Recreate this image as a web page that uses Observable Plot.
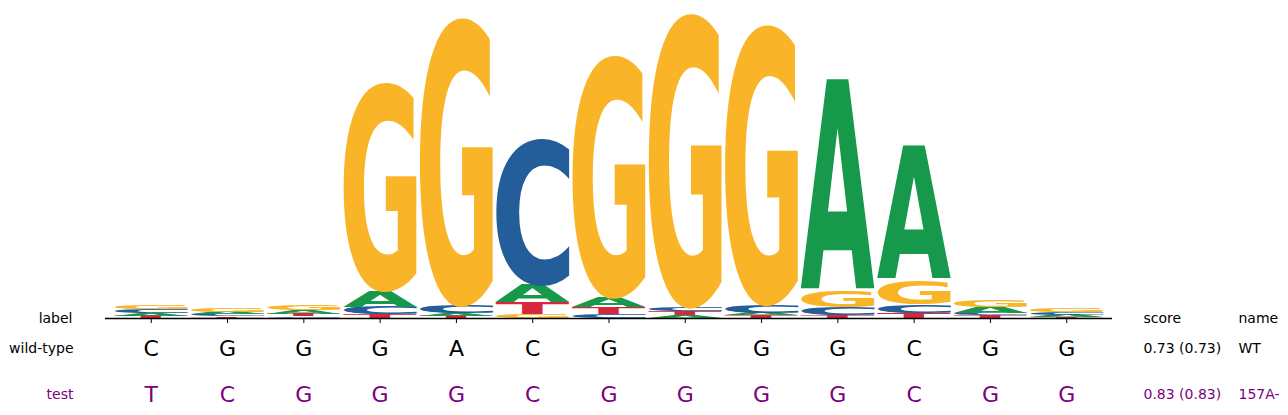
<!DOCTYPE html>
<html>
<head>
<meta charset="utf-8">
<script src="https://cdn.jsdelivr.net/npm/d3@7"></script>
<script src="https://cdn.jsdelivr.net/npm/@observablehq/plot@0.6"></script>
<style>
  body { margin: 0; background: #fff; }
  #chart svg { display: block; }
</style>
</head>
<body>
<div id="chart"></div>
<script>
// motif columns and information content (bits) per letter
const positions = d3.range(13);
const letters = ["A", "C", "G", "T"];
const bitsA = [0.019, 0.016, 0.026, 0.104, 0.016, 0.117, 0.065, 0.019, 0.019, 1.377, 0.870, 0.039, 0.013];
const bitsC = [0.023, 0.013, 0.010, 0.049, 0.052, 0.955, 0.026, 0.029, 0.052, 0.052, 0.055, 0.019, 0.015];
const bitsG = [0.029, 0.026, 0.032, 1.364, 1.883, 0.023, 1.584, 1.922, 1.831, 0.104, 0.159, 0.045, 0.021];
const bitsT = [0.013, 0.010, 0.013, 0.023, 0.013, 0.078, 0.042, 0.023, 0.016, 0.019, 0.032, 0.016, 0.008];

// sequences shown under the logo
const rowNames = ["wild-type", "test"];
const wildType = ["C", "G", "G", "G", "A", "C", "G", "G", "G", "G", "C", "G", "G"];
const testSeq = ["T", "C", "G", "G", "G", "C", "G", "G", "G", "G", "C", "G", "G"];
const rowScores = ["0.73 (0.73)", "0.83 (0.83)"];
const rowIds = ["WT", "157A-"];

const colors = {A: "#16994a", C: "#235e9b", G: "#f9b428", T: "#d7273c"};
const rowColors = {"wild-type": "black", "test": "purple"};
const font = "DejaVu Sans";

// stack letters in each column, smallest at the bottom
const bitsBy = {A: bitsA, C: bitsC, G: bitsG, T: bitsT};
const stacked = [];
for (const pos of positions) {
  const col = letters.map(letter => ({pos, letter, bits: bitsBy[letter][pos]}))
    .sort((a, b) => a.bits - b.bits);
  let y = 0;
  for (const d of col) {
    stacked.push({...d, y1: y, y2: y + d.bits});
    y += d.bits;
  }
}

// ink box of each glyph, used to stretch it into its rect
const ctx = document.createElement("canvas").getContext("2d");
ctx.font = `bold 100px '${font}'`;
const metrics = new Map(letters.map(l => {
  const m = ctx.measureText(l);
  return [l, {
    left: m.actualBoundingBoxLeft, right: m.actualBoundingBoxRight,
    ascent: m.actualBoundingBoxAscent, descent: m.actualBoundingBoxDescent
  }];
}));

function drawGlyphs(index, scales, values) {
  const g = d3.create("svg:g");
  for (const i of index) {
    const d = stacked[i];
    const m = metrics.get(d.letter);
    const x = Math.min(values.x1[i], values.x2[i]);
    const w = Math.abs(values.x2[i] - values.x1[i]);
    const top = Math.min(values.y1[i], values.y2[i]);
    const h = Math.abs(values.y1[i] - values.y2[i]);
    g.append("text")
      .attr("transform", `translate(${x},${top}) scale(${w / (m.left + m.right)},${h / (m.ascent + m.descent)})`)
      .attr("x", m.left)
      .attr("y", m.ascent)
      .attr("text-anchor", "start")
      .attr("fill", colors[d.letter])
      .attr("font-family", font)
      .attr("font-weight", "bold")
      .attr("font-size", 100)
      .text(d.letter);
  }
  return g.node();
}

const xDomain = [-0.6, 12.6];
const marginLeft = 105, marginRight = 176;

const logo = Plot.plot({
  width: 1288,
  height: 330,
  marginTop: 10,
  marginBottom: 12,
  marginLeft,
  marginRight,
  style: {fontFamily: font, fontSize: "14px", color: "black", background: "white"},
  x: {domain: xDomain},
  y: {domain: [0, 2], axis: null},
  marks: [
    Plot.rect(stacked, {
      x1: d => d.pos - 0.485,
      x2: d => d.pos + 0.485,
      y1: "y1",
      y2: "y2",
      render: drawGlyphs
    }),
    Plot.ruleY([0], {stroke: "black", strokeWidth: 1.3}),
    Plot.axisX({ticks: positions, tickSize: 5, tickFormat: () => "", label: null, stroke: "black"}),
    Plot.text(["label"], {frameAnchor: "bottom-left", lineAnchor: "middle", dx: -33, textAnchor: "end", fill: "black", fontSize: 14}),
    Plot.text(["score"], {frameAnchor: "bottom-right", lineAnchor: "middle", dx: 31, textAnchor: "start", fill: "black", fontSize: 14}),
    Plot.text(["name"], {frameAnchor: "bottom-right", lineAnchor: "middle", dx: 126, textAnchor: "start", fill: "black", fontSize: 14})
  ]
});

const seqCells = [];
rowNames.forEach((row, r) => {
  const seq = r === 0 ? wildType : testSeq;
  seq.forEach((base, pos) => seqCells.push({row, pos, base}));
});
const rows = rowNames.map((row, r) => ({row, score: rowScores[r], id: rowIds[r]}));

const seqs = Plot.plot({
  width: 1288,
  height: 85,
  marginTop: 18,
  marginBottom: 21,
  marginLeft,
  marginRight,
  style: {fontFamily: font, fontSize: "14px", background: "white"},
  x: {domain: xDomain, axis: null},
  y: {type: "point", domain: rowNames, padding: 0, axis: null},
  marks: [
    Plot.text(seqCells, {x: "pos", y: "row", text: "base", fill: d => rowColors[d.row], fontSize: 22}),
    Plot.text(rows, {y: "row", text: "row", frameAnchor: "left", dx: -32, textAnchor: "end", fill: d => rowColors[d.row], fontSize: 14}),
    Plot.text(rows, {y: "row", text: "score", frameAnchor: "right", dx: 31, textAnchor: "start", fill: d => rowColors[d.row], fontSize: 14}),
    Plot.text(rows, {y: "row", text: "id", frameAnchor: "right", dx: 126, textAnchor: "start", fill: d => rowColors[d.row], fontSize: 14})
  ]
});

document.getElementById("chart").append(logo, seqs);
</script>
</body>
</html>
